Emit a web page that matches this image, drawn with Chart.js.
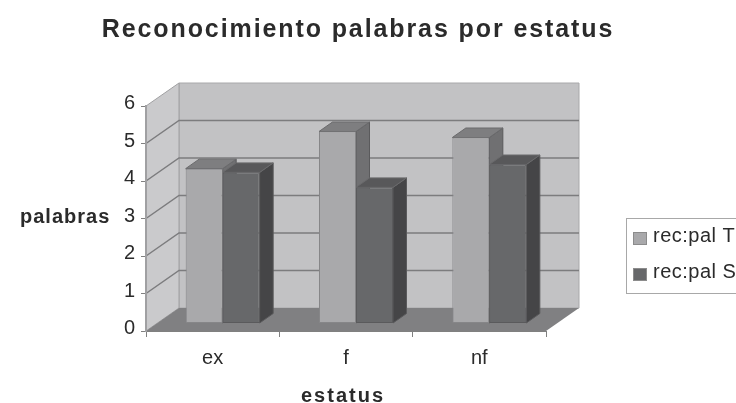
<!DOCTYPE html>
<html>
<head>
<meta charset="utf-8">
<script src="https://cdn.jsdelivr.net/npm/chart.js@4"></script>
<style>
html, body { margin: 0; padding: 0; background: #fff; overflow: hidden; }
#wrap { width: 736px; height: 403px; position: relative; }
#Canvasnya { filter: blur(0.45px); }
</style>
</head>
<body>
<div id="wrap"><canvas id="Canvasnya" width="736" height="403"></canvas></div>
<script>
var categories = ["ex", "f", "nf"];
var seriesNames = ["rec:pal T", "rec:pal S"];
var recPalT = [4.13, 5.12, 4.96];
var recPalS = [4.03, 3.63, 4.24];
var titleText = "Reconocimiento palabras por estatus";
var yAxisTitle = "palabras";
var xAxisTitle = "estatus";

var FONT = '"Liberation Sans", Arial, sans-serif';
var wallDx = 33, wallDy = -23;   // depth of the chart box
var barDx = 13.5, barDy = -9.5;  // depth of each bar
var barShiftX = 10, barShiftY = -7.5;  // bars stand inside the box, not on its front edge
var frontColors = ['#a9a9ab', '#67686a'];
var topColors = ['#7e7e80', '#58585a'];
var sideColors = ['#707072', '#454547'];

function poly(ctx, pts, fill, stroke) {
    ctx.beginPath();
    ctx.moveTo(pts[0][0], pts[0][1]);
    for (var i = 1; i < pts.length; i++) ctx.lineTo(pts[i][0], pts[i][1]);
    ctx.closePath();
    ctx.fillStyle = fill;
    ctx.fill();
    if (stroke) {
        ctx.strokeStyle = stroke;
        ctx.lineWidth = 1;
        ctx.stroke();
    }
}

// side and top faces of one series, in the shifted bar position
function drawFaces(chart, c) {
    var ctx = chart.ctx;
    ctx.save();
    ctx.translate(barShiftX, barShiftY);
    chart.getDatasetMeta(c).data.forEach(function (bar) {
        var x0 = bar.x - bar.width / 2, x1 = bar.x + bar.width / 2;
        poly(ctx, [[x1, bar.base], [x1 + barDx, bar.base + barDy], [x1 + barDx, bar.y + barDy], [x1, bar.y]], sideColors[c], '#5a5a5c');
        poly(ctx, [[x0, bar.y], [x0 + barDx, bar.y + barDy], [x1 + barDx, bar.y + barDy], [x1, bar.y]], topColors[c], '#6a6a6c');
    });
    ctx.restore();
}

var box3d = {
    id: 'box3d',
    afterLayout: function (chart) {
        // title is centred a little left of the page middle, and tracked wide
        var t = chart.titleBlock, ctx = chart.ctx, drawTitle = t.draw;
        t.left = 0;
        t.right = 716;
        t.draw = function () {
            ctx.letterSpacing = '1.9px';
            drawTitle.call(t);
            ctx.letterSpacing = '0px';
        };
        // same tracking trick for the x axis title
        var xs = chart.scales.x, drawXTitle = xs.drawTitle;
        xs.drawTitle = function () {
            ctx.save();
            ctx.translate(-3, 0);
            ctx.letterSpacing = '2px';
            drawXTitle.call(xs);
            ctx.restore();
        };
    },
    beforeDraw: function (chart) {
        var ctx = chart.ctx, y = chart.scales.y, a = chart.chartArea;
        var l = a.left, r = a.right, t = a.top, b = a.bottom;
        ctx.save();
        poly(ctx, [[l + wallDx, t + wallDy], [r + wallDx, t + wallDy], [r + wallDx, b + wallDy], [l + wallDx, b + wallDy]], '#c2c2c4', '#a8a8aa');
        poly(ctx, [[l, t], [l + wallDx, t + wallDy], [l + wallDx, b + wallDy], [l, b]], '#cacacc', '#a0a0a2');
        ctx.strokeStyle = '#7c7c7e';
        ctx.lineWidth = 1.5;
        for (var v = 1; v <= 5; v++) {
            var py = y.getPixelForValue(v);
            ctx.beginPath();
            ctx.moveTo(l, py);
            ctx.lineTo(l + wallDx, py + wallDy);
            ctx.lineTo(r + wallDx, py + wallDy);
            ctx.stroke();
        }
        poly(ctx, [[l, b], [l + wallDx, b + wallDy], [r + wallDx, b + wallDy], [r, b]], '#808082');
        ctx.restore();
    },
    beforeDatasetDraw: function (chart, args) {
        var ctx = chart.ctx;
        // the last series is painted first, so all side faces go down here
        if (args.index === 1) {
            drawFaces(chart, 0);
            drawFaces(chart, 1);
        }
        ctx.save();
        ctx.translate(barShiftX, barShiftY);
    },
    afterDatasetDraw: function (chart) {
        chart.ctx.restore();
    },
    afterDraw: function (chart) {
        var ctx = chart.ctx;
        ctx.save();
        // horizontal y axis title
        ctx.fillStyle = '#2b2b2b';
        ctx.font = 'bold 20px ' + FONT;
        ctx.letterSpacing = '1px';
        ctx.textBaseline = 'alphabetic';
        ctx.fillText(yAxisTitle, 20, 223);
        // legend runs off the right edge like the source
        ctx.letterSpacing = '0.5px';
        ctx.font = '20px ' + FONT;
        ctx.strokeStyle = '#a8a8a8';
        ctx.lineWidth = 1;
        ctx.strokeRect(626.5, 218.5, 140, 75);
        for (var i = 0; i < seriesNames.length; i++) {
            var sy = 232 + i * 36;
            ctx.fillStyle = frontColors[i];
            ctx.fillRect(633, sy, 14, 13);
            ctx.strokeStyle = '#8c8c8c';
            ctx.strokeRect(633.5, sy + 0.5, 13, 12);
            ctx.fillStyle = '#2b2b2b';
            ctx.fillText(seriesNames[i], 653, sy + 10);
        }
        ctx.restore();
    }
};

var GKChart = document.getElementById("Canvasnya").getContext('2d');

var myChart = new Chart(GKChart, {
    type: 'bar',
    data: {
        labels: categories,
        datasets: [{
            label: seriesNames[0],
            data: recPalT,
            backgroundColor: frontColors[0],
            borderColor: '#868688',
            borderWidth: 1,
            borderSkipped: false
        }, {
            label: seriesNames[1],
            data: recPalS,
            backgroundColor: frontColors[1],
            borderColor: '#5a5a5c',
            borderWidth: 1,
            borderSkipped: false
        }]
    },
    plugins: [box3d],
    options: {
        responsive: false,
        animation: false,
        layout: { padding: { left: 96, right: 190, top: 0, bottom: 0 } },
        datasets: { bar: { categoryPercentage: 0.555, barPercentage: 1 } },
        plugins: {
            legend: { display: false },
            tooltip: { enabled: false },
            title: {
                display: true,
                text: titleText,
                color: '#2b2b2b',
                font: { family: FONT, size: 25, weight: 'bold' },
                padding: { top: 15.5, bottom: 60.5 }
            }
        },
        scales: {
            x: {
                afterFit: function (s) { s.height = 72; },
                grid: { drawOnChartArea: false, color: '#808080', tickLength: 6 },
                border: { color: '#808080' },
                ticks: { color: '#2b2b2b', font: { family: FONT, size: 20 }, padding: 9, maxRotation: 0 },
                title: {
                    display: true,
                    text: xAxisTitle,
                    color: '#2b2b2b',
                    font: { family: FONT, size: 20, weight: 'bold' },
                    padding: { top: 10, bottom: -5 }
                }
            },
            y: {
                min: 0,
                max: 6,
                afterFit: function (s) { s.width = 50; },
                grid: { drawOnChartArea: false, color: '#808080', tickLength: 5 },
                border: { color: '#a0a0a2', width: 2 },
                ticks: { stepSize: 1, color: '#2b2b2b', font: { family: FONT, size: 20 }, padding: 6, labelOffset: -2.5 }
            }
        }
    }
});
</script>
</body>
</html>
